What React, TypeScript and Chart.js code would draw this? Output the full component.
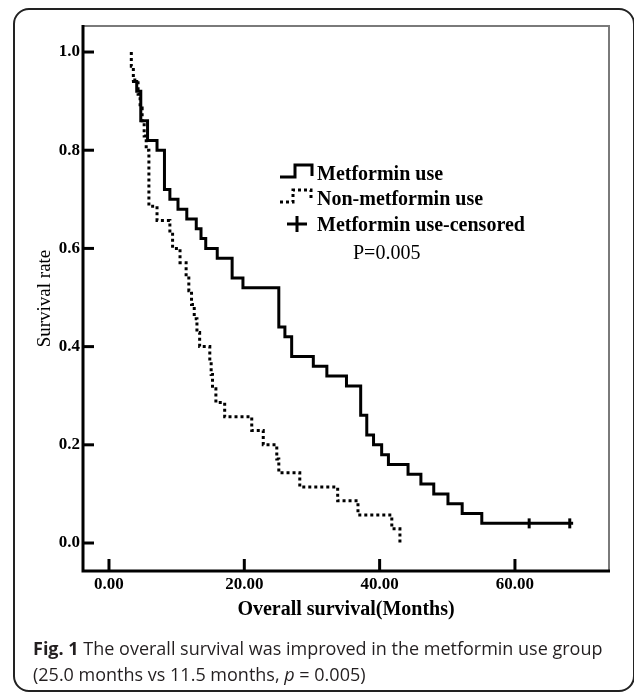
import React, { useEffect, useRef } from "react";
import { Chart, registerables } from "chart.js";

Chart.register(...registerables);

// Metformin use group (Kaplan–Meier steps: time in months, survival after event)
const metTimes = [3.4, 4.1, 4.7, 5.7, 7.1, 8.2, 9.0, 10.2, 11.5, 12.9, 13.6, 14.3, 16.0, 18.2, 19.8, 25.1, 26.0, 27.0, 30.2, 32.2, 35.1, 37.2, 38.1, 39.1, 40.3, 41.3, 44.2, 46.1, 48.0, 50.1, 52.2, 55.1, 68.6];
const metSurv = [0.94, 0.92, 0.86, 0.82, 0.8, 0.72, 0.7, 0.68, 0.66, 0.64, 0.62, 0.6, 0.58, 0.54, 0.52, 0.44, 0.42, 0.38, 0.36, 0.34, 0.32, 0.26, 0.22, 0.2, 0.18, 0.16, 0.14, 0.12, 0.1, 0.08, 0.06, 0.04, 0.04];

// Non-metformin use group
const nonTimes = [3.3, 3.3, 3.6, 4.3, 4.6, 4.9, 5.2, 5.5, 5.9, 7.1, 9.0, 9.4, 10.5, 11.4, 11.8, 12.2, 12.6, 13.0, 13.4, 14.9, 15.1, 15.3, 15.8, 17.1, 21.1, 22.8, 24.8, 25.1, 28.2, 33.8, 36.8, 41.8, 43.0];
const nonSurv = [1.0, 0.971, 0.943, 0.914, 0.886, 0.857, 0.829, 0.8, 0.686, 0.657, 0.629, 0.6, 0.571, 0.543, 0.514, 0.486, 0.457, 0.429, 0.4, 0.371, 0.343, 0.314, 0.286, 0.257, 0.229, 0.2, 0.171, 0.143, 0.114, 0.086, 0.057, 0.029, 0.0];

// Censored observations (metformin use)
const censorTimes = [62.1, 68.1];
const censorSurv = [0.04, 0.04];

const xTicks = [0, 20, 40, 60];
const yTicks = [0, 0.2, 0.4, 0.6, 0.8, 1.0];
const legendLabels = ["Metformin use", "Non-metformin use", "Metformin use-censored"];
const pValueText = "P=0.005";
const xTitle = "Overall survival(Months)";
const yTitle = "Survival rate";

const SERIF = "'Liberation Serif', 'Times New Roman', serif";

export default function App() {
  const ref = useRef<HTMLCanvasElement>(null);

  useEffect(() => {
    document.body.style.margin = "0";
    const canvas = ref.current!;
    const ctx = canvas.getContext("2d")!;

    const overlay = {
      id: "overlay",
      afterDatasetsDraw(chart: any) {
        const c = chart.ctx as CanvasRenderingContext2D;
        const { left, right, top, bottom } = chart.chartArea;
        const xs = chart.scales.x;
        const ys = chart.scales.y;
        c.save();
        c.lineCap = "butt";
        // top & right frame (gray)
        c.strokeStyle = "#7a7a7a";
        c.lineWidth = 2;
        c.beginPath();
        c.moveTo(left, top);
        c.lineTo(right, top);
        c.lineTo(right, bottom);
        c.stroke();
        // left & bottom axes (black, thick)
        c.strokeStyle = "#000";
        c.lineWidth = 3;
        c.beginPath();
        c.moveTo(left, top - 1);
        c.lineTo(left, bottom);
        c.lineTo(right + 1, bottom);
        c.stroke();
        // y ticks (inside)
        yTicks.forEach((v) => {
          const y = ys.getPixelForValue(v);
          c.beginPath();
          c.moveTo(left, y);
          c.lineTo(left + 11, y);
          c.stroke();
        });
        // x ticks (inside)
        xTicks.forEach((v) => {
          const x = xs.getPixelForValue(v);
          c.beginPath();
          c.moveTo(x, bottom);
          c.lineTo(x, bottom - 12);
          c.stroke();
        });
        // axis titles
        c.fillStyle = "#000";
        c.font = `bold 20px ${SERIF}`;
        c.textAlign = "center";
        c.textBaseline = "middle";
        c.fillText(xTitle, (left + right) / 2, 610);
        c.save();
        c.translate(45, (top + bottom) / 2);
        c.rotate(-Math.PI / 2);
        c.font = `19px ${SERIF}`;
        c.fillText(yTitle, 0, 0);
        c.restore();

        // legend
        c.lineWidth = 3;
        c.lineJoin = "miter";
        c.beginPath();
        c.moveTo(280, 177);
        c.lineTo(295, 177);
        c.lineTo(295, 165);
        c.lineTo(312, 165);
        c.lineTo(312, 176);
        c.stroke();
        c.setLineDash([3, 3]);
        c.beginPath();
        c.moveTo(280, 202);
        c.lineTo(293, 202);
        c.lineTo(293, 190);
        c.lineTo(311, 190);
        c.lineTo(311, 201);
        c.stroke();
        c.setLineDash([]);
        c.beginPath();
        c.moveTo(287, 224);
        c.lineTo(307, 224);
        c.moveTo(297, 216);
        c.lineTo(297, 232);
        c.stroke();

        c.textAlign = "left";
        c.textBaseline = "alphabetic";
        c.font = `bold 20px ${SERIF}`;
        c.fillText(legendLabels[0], 317, 180);
        c.fillText(legendLabels[1], 317, 205);
        c.fillText(legendLabels[2], 317, 231);
        c.font = `20px ${SERIF}`;
        c.fillText(pValueText, 353, 259);
        c.restore();
      },
    };

    const chart = new Chart(ctx, {
      type: "line",
      data: {
        datasets: [
          {
            label: legendLabels[0],
            data: metTimes.map((t, i) => ({ x: t, y: metSurv[i] })),
            stepped: "before",
            borderColor: "#000",
            borderWidth: 3,
            pointRadius: 0,
            fill: false,
            borderJoinStyle: "miter",
          },
          {
            label: legendLabels[1],
            data: nonTimes.map((t, i) => ({ x: t, y: nonSurv[i] })),
            stepped: "before",
            borderColor: "#000",
            borderWidth: 3,
            borderDash: [3, 3],
            pointRadius: 0,
            fill: false,
            borderJoinStyle: "miter",
          },
          {
            label: legendLabels[2],
            data: censorTimes.map((t, i) => ({ x: t, y: censorSurv[i] })),
            showLine: false,
            pointStyle: "line",
            rotation: 90,
            pointRadius: 5,
            borderWidth: 3,
            borderColor: "#000",
            backgroundColor: "#000",
          },
        ],
      },
      options: {
        animation: false,
        responsive: false,
        devicePixelRatio: 1,
        layout: { padding: { left: 0, top: 26, right: 25, bottom: 0 } },
        plugins: { legend: { display: false }, tooltip: { enabled: false } },
        scales: {
          x: {
            type: "linear",
            min: -3.84,
            max: 73.9,
            afterFit: (s: any) => {
              s.height = 122;
            },
            afterBuildTicks: (s: any) => {
              s.ticks = xTicks.map((v) => ({ value: v }));
            },
            grid: { display: false, drawTicks: false },
            border: { display: false },
            ticks: {
              padding: 3,
              color: "#000",
              font: { family: SERIF, size: 17, weight: "bold" },
              callback: (v: any) => Number(v).toFixed(2),
              maxRotation: 0,
            },
          },
          y: {
            type: "linear",
            min: -0.057,
            max: 1.053,
            afterFit: (s: any) => {
              s.width = 83;
            },
            afterBuildTicks: (s: any) => {
              s.ticks = yTicks.map((v) => ({ value: v }));
            },
            grid: { display: false, drawTicks: false },
            border: { display: false },
            ticks: {
              padding: 3,
              color: "#000",
              font: { family: SERIF, size: 17, weight: "bold" },
              callback: (v: any) => Number(v).toFixed(1),
            },
          },
        },
      },
      plugins: [overlay],
    } as any);

    return () => chart.destroy();
  }, []);

  const captionStyle: React.CSSProperties = {
    position: "absolute",
    left: 33,
    fontFamily: "'Open Sans', 'Noto Sans', sans-serif",
    fontSize: 18,
    color: "#231f20",
    whiteSpace: "nowrap",
    lineHeight: "26px",
  };

  return (
    <div style={{ position: "relative", width: 634, height: 693, overflow: "hidden", background: "#fff" }}>
      <div
        style={{
          position: "absolute",
          left: 13,
          top: 8,
          width: 622,
          height: 684,
          border: "2px solid #222",
          borderRadius: 16,
          boxSizing: "border-box",
        }}
      />
      <canvas ref={ref} width={634} height={693} style={{ position: "absolute", left: 0, top: 0 }} />
      <div style={{ ...captionStyle, top: 635 }}>
        <b>Fig. 1</b> The overall survival was improved in the metformin use group
      </div>
      <div style={{ ...captionStyle, top: 661 }}>
        (25.0 months vs 11.5 months, <i>p</i> = 0.005)
      </div>
    </div>
  );
}
